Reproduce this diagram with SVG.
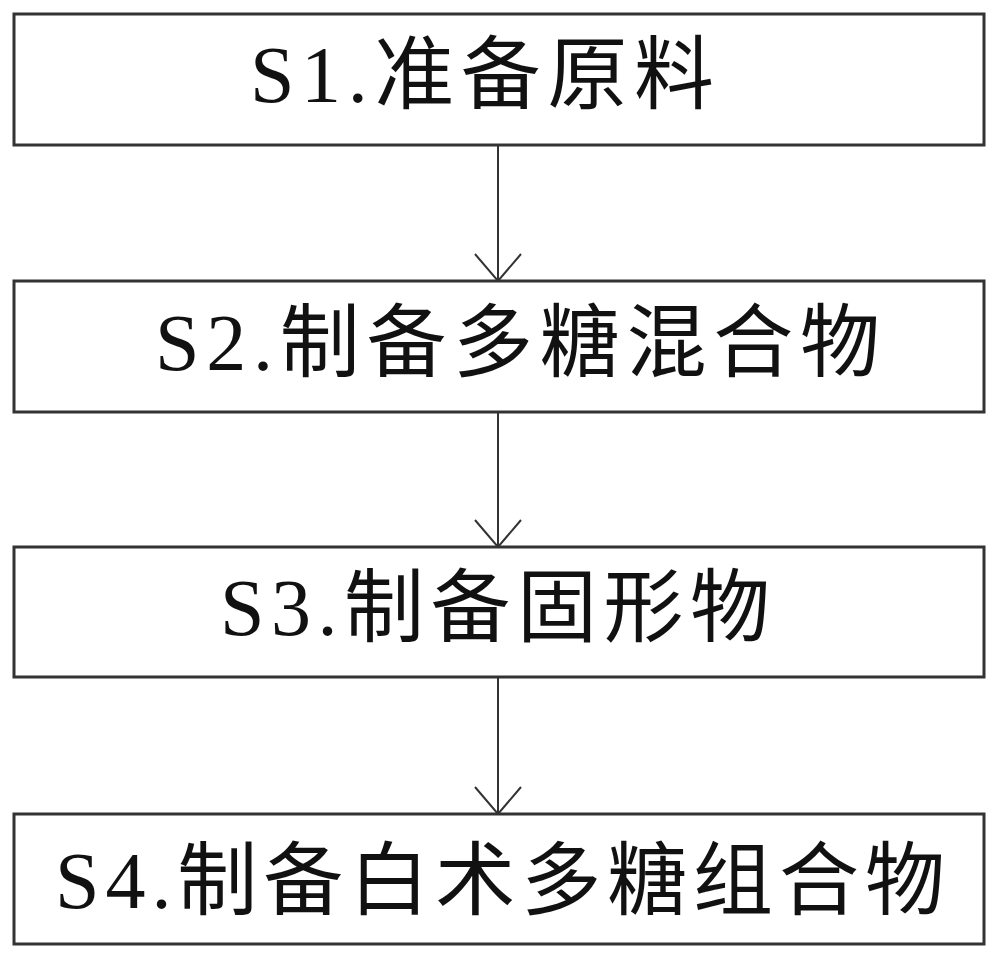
<svg xmlns="http://www.w3.org/2000/svg" width="1000" height="960" viewBox="0 0 1000 960">
<style>
.box{fill:#fff;stroke:#333;stroke-width:3}
.lbl{font-family:"Liberation Serif","Noto Sans CJK SC",serif;font-size:80px;fill:#111}
.conn{stroke:#333;stroke-width:2;fill:none}
</style>
<defs>
<marker id="arr" markerUnits="userSpaceOnUse" viewBox="-30 -26 32 52" refX="0" refY="0" markerWidth="32" markerHeight="52" orient="auto">
<path d="M -27 -23 L 0 0 L -27 23" fill="none" stroke="#333" stroke-width="2"/>
</marker>
</defs>
<rect width="1000" height="960" fill="#fff"/>
<g id="connectors">
<line class="conn" x1="498" y1="145" x2="498" y2="281" marker-end="url(#arr)"/>
<line class="conn" x1="498" y1="412" x2="498" y2="547" marker-end="url(#arr)"/>
<line class="conn" x1="498" y1="677" x2="498" y2="814" marker-end="url(#arr)"/>
</g>
<g id="s1">
<rect class="box" x="14" y="14" width="970" height="131"/>
<text class="lbl" x="250" y="102" textLength="464" lengthAdjust="spacing">S1.准备原料</text>
</g>
<g id="s2">
<rect class="box" x="14" y="281" width="970" height="131"/>
<text class="lbl" x="155" y="370" textLength="725" lengthAdjust="spacing">S2.制备多糖混合物</text>
</g>
<g id="s3">
<rect class="box" x="14" y="547" width="970" height="130"/>
<text class="lbl" x="220" y="635" textLength="550" lengthAdjust="spacing">S3.制备固形物</text>
</g>
<g id="s4">
<rect class="box" x="14" y="814" width="970" height="130"/>
<text class="lbl" x="55" y="908" textLength="890" lengthAdjust="spacing">S4.制备白术多糖组合物</text>
</g>
</svg>
